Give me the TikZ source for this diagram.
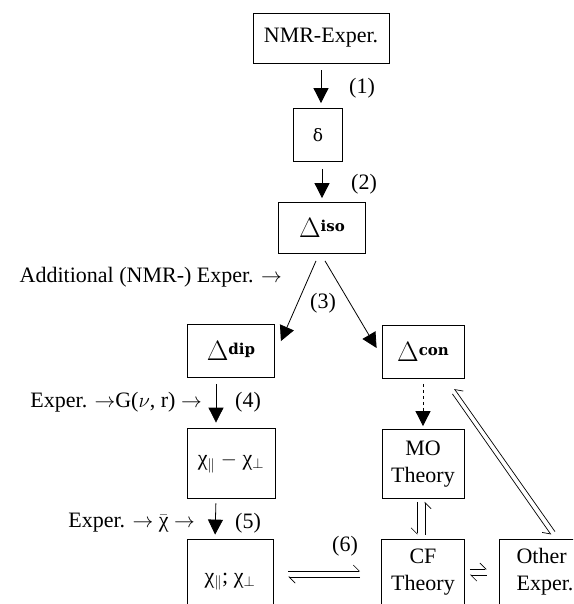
\documentclass[tikz,border=0pt]{standalone}
\usepackage{amsmath}
\usepackage{fontspec}
\setmainfont{Liberation Serif}
\newfontfamily\supfont{DejaVu Serif}
\usetikzlibrary{arrows.meta}

\newcommand{\Dsup}[1]{\scalebox{1.35}{$\Delta$}\raisebox{6pt}{\supfont\bfseries\fontsize{15}{15}\selectfont #1}}

\tikzset{
  box/.style={draw, line width=0.8pt, inner sep=0pt, align=center},
  flow/.style={line width=0.8pt, -{Triangle[length=15pt, width=15pt]}},
  harp/.style={line width=0.7pt, -{Straight Barb[harpoon, length=6pt, width=12pt]}},
  harpr/.style={line width=0.7pt, -{Straight Barb[harpoon, swap, length=6pt, width=12pt]}},
}

\begin{document}
\begin{tikzpicture}[x=1pt, y=-1pt, font=\fontsize{22}{27}\selectfont]

  % Frame
  \useasboundingbox (0,0) rectangle (573,604);
  \clip (0,0) rectangle (573,604);

  % Boxes
  \node[box, minimum width=136, minimum height=50] (nmr) at (321,38) {NMR-Exper.};
  \node[box, minimum width=49, minimum height=53, font=\supfont\fontsize{17}{17}\selectfont] (delta) at (318,135) {δ};
  \node[box, minimum width=87, minimum height=51] (iso) at (322,228) {\Dsup{iso}};
  \node[box, minimum width=87, minimum height=53] (dip) at (231,351) {\Dsup{dip}};
  \node[box, minimum width=82, minimum height=53] (con) at (423,352) {\Dsup{con}};
  \node[box, minimum width=88, minimum height=70] (diff) at (231,463) {χ$_\parallel$ $-$ χ$_\perp$};
  \node[box, minimum width=82, minimum height=69] (mo) at (423,464) {MO\\Theory};
  \node[box, minimum width=86, minimum height=66, text height=27pt, text depth=5pt] (chi) at (230,572) {χ$_\parallel$; χ$_\perp$};
  \node[box, minimum width=83, minimum height=66] (cf) at (423,572) {CF\\Theory};
  \node[box, minimum width=92, minimum height=66, align=left] (other) at (545,572) {Other\\Exper.};

  % Side texts
  \node[anchor=east, inner sep=0pt] (addexp) at (282,277) {Additional (NMR-) Exper. $\rightarrow$};
  \node[anchor=east, inner sep=0pt] (gexp) at (202,402) {Exper. $\rightarrow$G($\nu$, r) $\rightarrow$};
  \node[anchor=east, inner sep=0pt] (chiexp) at (195,523) {Exper. $\rightarrow$ $\bar{\text{χ}}$ $\rightarrow$};

  % Step numbers
  \node (n1) at (362,88) {(1)};
  \node (n2) at (364,184) {(2)};
  \node (n3) at (323,303) {(3)};
  \node (n4) at (248,402) {(4)};
  \node (n5) at (248,523) {(5)};
  \node (n6) at (345,546) {(6)};

  % Main flow
  \draw[flow, shorten <=7pt, shorten >=5pt] (nmr.south) -- (nmr.south |- delta.north);
  \draw[flow, shorten <=7pt, shorten >=4pt] (iso.north |- delta.south) -- (iso.north);
  \draw[flow] ([shift={(-6,7)}]iso.south) -- ([shift={(6,17)}]dip.north east);
  \draw[flow] ([shift={(3,7)}]iso.south) -- ([shift={(-5,-4)}]con.west);
  \draw[flow, shorten <=6pt, shorten >=5pt] ([xshift=-15pt]dip.south) -- ([xshift=-15pt]diff.north);
  \draw[flow, shorten <=5pt, shorten >=4pt] ([xshift=-15pt]diff.south) -- ([xshift=-15pt]chi.north);
  \draw[flow, dashed, shorten <=5pt, shorten >=3pt] (con.south) -- (mo.north);

  % Equilibria
  \draw[harpr] ([shift={(-6,3)}]mo.south) -- ([shift={(-6,-4)}]cf.north);
  \draw[harpr] ([shift={(2,-4)}]cf.north) -- ([shift={(2,3)}]mo.south);
  \draw[harp] ([shift={(15,-1)}]chi.east) -- ([shift={(-21,-1)}]cf.west);
  \draw[harp] ([shift={(-21,5)}]cf.west) -- ([shift={(15,5)}]chi.east);
  \draw[harp] ([shift={(5,-3)}]cf.east) -- ([shift={(-12,-3)}]other.west);
  \draw[harp] ([shift={(-12,3)}]other.west) -- ([shift={(5,3)}]cf.east);
  \draw[harpr] ([shift={(10,-7)}]other.north) -- ([shift={(-10,10)}]con.south east);
  \draw[harpr] ([shift={(-12,15)}]con.south east) -- ([shift={(6,-4)}]other.north);

\end{tikzpicture}
\end{document}
